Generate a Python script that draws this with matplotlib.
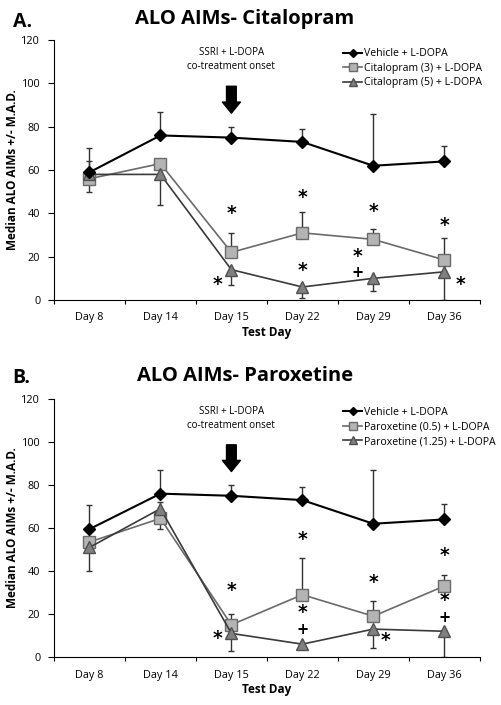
import matplotlib
matplotlib.use("Agg")
import matplotlib.pyplot as plt
import numpy as np

days = ["Day 8", "Day 14", "Day 15", "Day 22", "Day 29", "Day 36"]

# Panel A - Citalopram
a_vehicle = [59, 76, 75, 73, 62, 64]
a_vehicle_err = [11, 11, 5, 6, 24, 7]
a_cit3 = [56, 63, 22, 31, 28, 18.5]
a_cit3_err_lo = [6, 0, 0, 0, 0, 0]
a_cit3_err_hi = [0, 0, 9, 9.5, 5, 10]
a_cit5 = [58, 58, 14, 6, 10, 13]
a_cit5_err_lo = [0, 14, 7, 5, 6, 13]
a_cit5_err_hi = [6, 0, 0, 0, 0, 0]
a_labels = ["Vehicle + L-DOPA", "Citalopram (3) + L-DOPA", "Citalopram (5) + L-DOPA"]
a_stars = [(2.0, 40, "*"), (1.8, 7, "*"), (3.0, 47.5, "*"), (3.0, 13.5, "*"),
           (4.0, 41, "*"), (3.78, 20, "*"), (3.78, 12.5, "+"), (5.0, 34.5, "*"), (5.23, 7, "*")]

# Panel B - Paroxetine
b_vehicle = [59.5, 76, 75, 73, 62, 64]
b_vehicle_err = [11, 11, 5, 6, 25, 7]
b_par05 = [53.5, 64.5, 15, 29, 19, 33]
b_par05_err_lo = [0, 5, 0, 0, 0, 0]
b_par05_err_hi = [0, 0, 5, 17, 7, 5]
b_par125 = [51, 69, 11, 6, 13, 12]
b_par125_err_lo = [11, 0, 8, 0, 9, 12]
b_par125_err_hi = [0, 3, 0, 0, 0, 0]
b_labels = ["Vehicle + L-DOPA", "Paroxetine (0.5) + L-DOPA", "Paroxetine (1.25) + L-DOPA"]
b_stars = [(2.0, 31, "*"), (1.8, 8.5, "*"), (3.0, 54.5, "*"), (3.0, 20.8, "*"), (3.0, 13, "+"),
           (4.0, 34.5, "*"), (4.17, 7.5, "*"), (5.0, 47, "*"), (5.0, 26.3, "*"), (5.0, 18.3, "+")]

fig = plt.figure(figsize=(5.02, 7.05), dpi=100)
plt.rcParams['font.family'] = ['Open Sans', 'DejaVu Sans']

def panel(rect, letter, title, veh, veh_err, s2, s2lo, s2hi, s3, s3lo, s3hi, labels, stars, title_y, letter_y):
    ax = fig.add_axes(rect)
    x = np.arange(len(days))
    ax.errorbar(x, veh, yerr=[np.zeros(6), veh_err], fmt='none', ecolor='#333333', elinewidth=1, capsize=2, zorder=2)
    ax.errorbar(x, s2, yerr=[s2lo, s2hi], fmt='none', ecolor='#333333', elinewidth=1, capsize=2, zorder=2)
    ax.errorbar(x, s3, yerr=[s3lo, s3hi], fmt='none', ecolor='#333333', elinewidth=1, capsize=2, zorder=2)
    ax.plot(x, veh, color='black', lw=1.5, marker='D', ms=6.5, mfc='black', mec='black', label=labels[0], zorder=5)
    ax.plot(x, s2, color='#6a6a6a', lw=1.2, marker='s', ms=8.5, mfc='#b4b4b4', mec='#6a6a6a', label=labels[1], zorder=4)
    ax.plot(x, s3, color='#3a3a3a', lw=1.2, marker='^', ms=9, mfc='#808080', mec='#505050', label=labels[2], zorder=4)
    for sx, sy, t in stars:
        if t == "*":
            ax.text(sx, sy, "*", fontsize=13.5, fontweight='bold', ha='center', va='center', family='DejaVu Sans')
        else:
            ax.text(sx, sy, "+", fontsize=10.5, fontweight='bold', ha='center', va='center', family='DejaVu Sans')
    ax.set_xlim(-0.5, 5.5)
    ax.set_ylim(0, 120)
    ax.set_yticks(range(0, 121, 20))
    ax.set_xticks(np.arange(-0.5, 6, 1), minor=False)
    ax.set_xticklabels([])
    ax.set_xticks(x, minor=True)
    ax.set_xticklabels(days, minor=True, fontsize=7.8)
    ax.tick_params(axis='x', which='minor', length=0, pad=9)
    ax.tick_params(axis='x', which='major', length=3, direction='out')
    ax.tick_params(axis='y', length=4, direction='out', labelsize=7.8, pad=6)
    for s in ['top', 'right']:
        ax.spines[s].set_visible(False)
    ax.set_xlabel("Test Day", fontsize=8.5, fontweight='bold', labelpad=2)
    ax.set_ylabel("Median ALO AIMs +/- M.A.D.", fontsize=8.5, fontweight='bold')
    ax.yaxis.label.set_va('center')
    ax.yaxis.set_label_coords(-0.097, 0.5)
    ax.text(2.0, 111, "SSRI + L-DOPA\nco-treatment onset", fontsize=7, ha='center', va='center', linespacing=1.45)
    ax.annotate("", xy=(2.0, 85), xytext=(2.0, 100),
                arrowprops=dict(arrowstyle='simple,head_width=1.3,head_length=0.8,tail_width=0.7', fc='black', ec='black'))
    ax.legend(loc='upper left', bbox_to_anchor=(0.67, 0.985), frameon=False, fontsize=7.6,
              handlelength=1.8, handletextpad=0.15, labelspacing=0.33, markerscale=0.6, borderaxespad=0)
    fig.text(0.025, letter_y, letter, fontsize=14, fontweight='bold', va='center', ha='left')
    fig.text(0.488, title_y, title, fontsize=14.5, fontweight='bold', va='center', ha='center')
    return ax

panel([0.1076, 0.5745, 0.848, 0.3685], "A.", "ALO AIMs- Citalopram", a_vehicle, a_vehicle_err,
      a_cit3, a_cit3_err_lo, a_cit3_err_hi, a_cit5, a_cit5_err_lo, a_cit5_err_hi, a_labels, a_stars,
      1 - 19/705, 1 - 22/705)
panel([0.1076, 0.068, 0.848, 0.366], "B.", "ALO AIMs- Paroxetine", b_vehicle, b_vehicle_err,
      b_par05, b_par05_err_lo, b_par05_err_hi, b_par125, b_par125_err_lo, b_par125_err_hi, b_labels, b_stars,
      1 - 376/705, 1 - 378/705)

fig.savefig("out.png", dpi=100)
